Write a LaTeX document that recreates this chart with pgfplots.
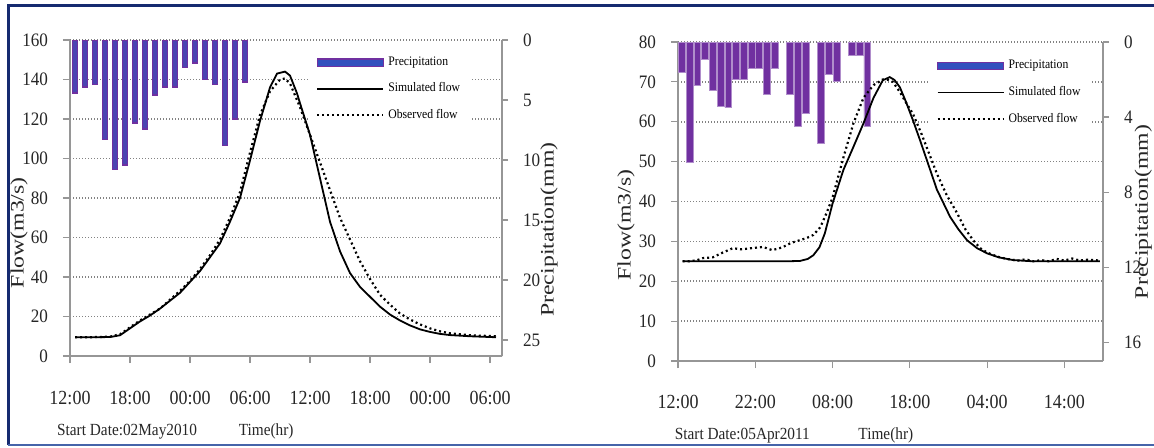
\documentclass[border=0pt]{standalone}
\usepackage{fontspec}
\setmainfont{Liberation Serif}[FakeStretch=0.9]
\newfontfamily\labfont{Liberation Serif}[FakeStretch=1.25]
\usepackage{pgfplots}
\pgfplotsset{compat=1.18}

\definecolor{framenavy}{RGB}{22,42,112}
\definecolor{framelight}{RGB}{70,100,170}
\definecolor{barpurple}{RGB}{112,48,160}
\definecolor{barblue}{RGB}{50,80,190}
\definecolor{axgray}{RGB}{150,150,150}
\definecolor{gridgray}{RGB}{130,130,130}

\pgfplotsset{
  flowaxis/.style={
    scale only axis, clip=false,
    axis lines*=left,
    axis line style={axgray, line width=0.6pt, -},
    every tick/.style={axgray, line width=0.6pt},
    tick align=outside, major tick length=3.5pt,
    ymajorgrids,
    major grid style={gridgray, line width=0.8pt, dash pattern=on 0.7pt off 0.8pt},
    /pgf/number format/assume math mode=true,
    xticklabel style={anchor=center, yshift=-17.5pt, font=\fontsize{10}{12}\selectfont, black!85},
    yticklabel style={anchor=east, xshift=-4pt, font=\fontsize{9.5}{12}\selectfont, black!85},
    ylabel style={font=\labfont\fontsize{9.5}{11}\selectfont, black!85},
    xlabel style={font=\fontsize{8.5}{10}\selectfont, black!85},
  },
  rainaxis/.style={
    scale only axis,
    axis x line=none, axis y line*=right,
    y dir=reverse, ymin=0,
    axis line style={axgray, line width=0.6pt, -},
    every tick/.style={axgray, line width=0.6pt},
    tick align=outside, major tick length=3pt,
    /pgf/number format/assume math mode=true,
    yticklabel style={anchor=west, xshift=4pt, font=\fontsize{9.5}{12}\selectfont, black!85},
    ylabel style={font=\labfont\fontsize{9.5}{11}\selectfont, black!85},
  },
  curveaxis/.style={
    scale only axis, hide axis,
    legend cell align=left,
    legend image code/.code={\draw[##1] (0pt,0pt) -- (33pt,0pt);},
    legend style={draw=none, fill=white, font=\fontsize{6.5}{7}\selectfont,
      row sep=3.2pt, inner xsep=3pt, inner ysep=3pt},
  },
  simflow/.style={black, line width=0.9pt},
  obsflow/.style={black, line width=1.1pt, dash pattern=on 1pt off 1.5pt},
}

\begin{document}
\begin{tikzpicture}
\path[use as bounding box] (0,0) rectangle (577pt,223.5pt);

% ---------------- left chart ----------------
\begin{axis}[flowaxis,
  at={(35pt,45.5pt)}, anchor=south west, width=216pt, height=158pt,
  xmin=0, xmax=43.2, ymin=0, ymax=160,
  xtick={0,6,12,18,24,30,36,42},
  xticklabels={12:00,18:00,00:00,06:00,12:00,18:00,00:00,06:00},
  ytick={0,20,40,60,80,100,120,140,160},
  ylabel={Flow(m3/s)},
  ylabel style={at={(axis description cs:-0.118,0.39)}, anchor=center},
  xlabel={Time(hr)},
  xlabel style={at={(axis description cs:0.454,-0.24)}, anchor=center},
  ]
  \node[anchor=west, font=\fontsize{8.5}{10}\selectfont, black!85]
    at (axis description cs:-0.046,-0.24) {Start Date:02May2010};
\end{axis}

\begin{axis}[rainaxis,
  at={(35pt,45.5pt)}, anchor=south west, width=216pt, height=158pt,
  xmin=0, xmax=43.2, ymax=26.33,
  ytick={0,5,10,15,20,25},
  ylabel={Precipitation(mm)},
  ylabel style={at={(axis description cs:1.109,0.40)}, anchor=center},
  ]
  \addplot[ybar, bar width=0.5, fill=barblue!60!barpurple, draw=barpurple, line width=0.85pt]
  coordinates {(0.5,4.4) (1.5,3.9) (2.5,3.7) (3.5,8.3) (4.5,10.8) (5.5,10.4)
    (6.5,6.9) (7.5,7.4) (8.5,4.6) (9.5,3.9) (10.5,3.9) (11.5,2.3) (12.5,1.9)
    (13.5,3.3) (14.5,3.7) (15.5,8.8) (16.5,6.6) (17.5,3.5)};
\end{axis}

\begin{axis}[curveaxis,
  at={(35pt,45.5pt)}, anchor=south west, width=216pt, height=158pt,
  xmin=0, xmax=43.2, ymin=0, ymax=160,
  legend style={at={(0.555,0.98)}, anchor=north west},
  ]
  \addlegendimage{legend image code/.code={\draw[fill=barblue, draw=barpurple, line width=0.6pt] (0pt,-1.8pt) rectangle (33pt,1.8pt);}}
  \addlegendentry{Precipitation}
  \addplot[simflow] coordinates {(0.5,9.5) (2,9.5) (4,9.6) (5,10.5) (6,14) (7,17.5)
    (8,20.5) (9,24) (10,28) (11,32) (12,37.5) (13,43) (14,50) (15,57) (16,68)
    (17,80) (18,99) (19,119) (20,136) (20.7,143) (21.5,144) (22,142) (22.7,133)
    (23,128) (24,112) (25,90) (26,68) (27,53) (28,42) (29,35) (30,30) (31,25)
    (32,21) (33,18) (34,15.5) (35,13.5) (36,12.2) (37,11.2) (38,10.6) (40,10)
    (42.6,9.5)};
  \addlegendentry{Simulated flow}
  \addplot[obsflow] coordinates {(0.5,9.5) (2,9.5) (4,9.8) (5,11) (6,14.5) (7,18)
    (8,21) (9,24) (10,28.5) (11,33) (12,38) (13,44) (14,51) (15,59) (16,70)
    (17,83) (18,103) (19,122) (20,134) (21,140) (21.5,140.5) (22,138) (23,126)
    (24,112) (25,98) (26,84) (27,70) (28,59) (29,48) (30,39) (31,31) (32,26)
    (33,21.5) (34,18.5) (35,16) (36,14) (37,12.5) (38,11.5) (40,10.5) (42.6,10)};
  \addlegendentry{Observed flow}
\end{axis}

% ---------------- right chart ----------------
\begin{axis}[flowaxis,
  at={(339pt,43pt)}, anchor=south west, width=212.5pt, height=159.5pt,
  xmin=0, xmax=55, ymin=0, ymax=80,
  xtick={0,10,20,30,40,50},
  xticklabels={12:00,22:00,08:00,18:00,04:00,14:00},
  xticklabel style={yshift=0.5pt},
  ytick={0,10,20,30,40,50,60,70,80},
  ylabel={Flow(m3/s)},
  ylabel style={at={(axis description cs:-0.122,0.426)}, anchor=center},
  xlabel={Time(hr)},
  xlabel style={at={(axis description cs:0.489,-0.232)}, anchor=center},
  ]
  \node[anchor=west, font=\fontsize{8.5}{10}\selectfont, black!85]
    at (axis description cs:-0.024,-0.235) {Start Date:05Apr2011};
\end{axis}

\begin{axis}[rainaxis,
  at={(339pt,43pt)}, anchor=south west, width=212.5pt, height=159.5pt,
  xmin=0, xmax=55, ymax=17,
  ytick={0,4,8,12,16},
  ylabel={Precipitation(mm)},
  ylabel style={at={(axis description cs:1.095,0.467)}, anchor=center},
  ]
  \addplot[ybar, bar width=0.88, fill=barpurple, draw=barpurple!55, line width=0.3pt]
  coordinates {(0.5,1.6) (1.5,6.4) (2.5,2.3) (3.5,0.9) (4.5,2.6) (5.5,3.4)
    (6.5,3.5) (7.5,2.0) (8.5,2.0) (9.5,1.4) (10.5,1.4) (11.5,2.8) (12.5,1.4)
    (14.5,2.8) (15.5,4.5) (16.5,3.8) (18.5,5.4) (19.5,1.7) (20.5,2.1)
    (22.5,0.7) (23.5,0.7) (24.5,4.5)};
\end{axis}

\begin{axis}[curveaxis,
  at={(339pt,43pt)}, anchor=south west, width=212.5pt, height=159.5pt,
  xmin=0, xmax=55, ymin=0, ymax=80,
  legend style={at={(0.593,0.975)}, anchor=north west},
  ]
  \addlegendimage{legend image code/.code={\draw[fill=barblue, draw=barpurple, line width=0.6pt] (0pt,-1.8pt) rectangle (33pt,1.8pt);}}
  \addlegendentry{Precipitation}
  \addplot[simflow] coordinates {(0.6,25) (5,25) (10,25) (14,25) (15.8,25.1)
    (16.8,25.6) (17.5,26.5) (18.3,28.5) (19,32) (20,39.5) (21.4,47.9) (22.7,53.7)
    (24,59.6) (25.3,66) (26.5,70.4) (27.4,71.2) (28,70.5) (28.7,68.7) (29.5,65)
    (30.4,60.4) (31.3,55.5) (32.2,50.4) (33.5,43) (35.2,36.2) (36.3,33)
    (37.4,30.3) (38.7,28.3) (40,27) (41.5,26) (43.4,25.3) (46,25) (54.6,25)};
  \addlegendentry{Simulated flow}
  \addplot[obsflow] coordinates {(0.6,25) (1.5,25) (2.5,25.3) (3.2,25.8) (4.5,26)
    (5.8,27.2) (7.1,28.3) (8.2,28) (9.5,28.3) (11,28.6) (12.2,27.8) (13.5,28.5)
    (14.6,29.6) (15.6,30.2) (16.6,30.8) (17.5,31.6) (18.4,33.5) (19.2,37) (20,41)
    (21.4,51) (22.7,59.6) (24,66) (25.3,69.2) (26.5,70.6) (27.2,70.5) (27.8,70)
    (28.7,67.5) (29.6,64.5) (30.4,62) (31.5,57) (32.5,52) (33.5,47) (34.8,41.5)
    (36,37.5) (37.2,33) (38.2,30.3) (39.1,28.3) (40,27.2) (41.3,26.2) (42.5,25.6)
    (44,25.2) (45,25.5) (46,25) (47,25.3) (48,25) (49,25.6) (50,25.2) (51,25.7)
    (52,25.2) (53,25.4) (54.6,25.2)};
  \addlegendentry{Observed flow}
\end{axis}

% frame
\draw[framenavy, line width=1.5pt] (577pt,221pt) -- (4pt,221pt) -- (4pt,1pt);
\draw[framelight, line width=1pt] (4pt,1pt) -- (577pt,1pt);
\end{tikzpicture}
\end{document}
